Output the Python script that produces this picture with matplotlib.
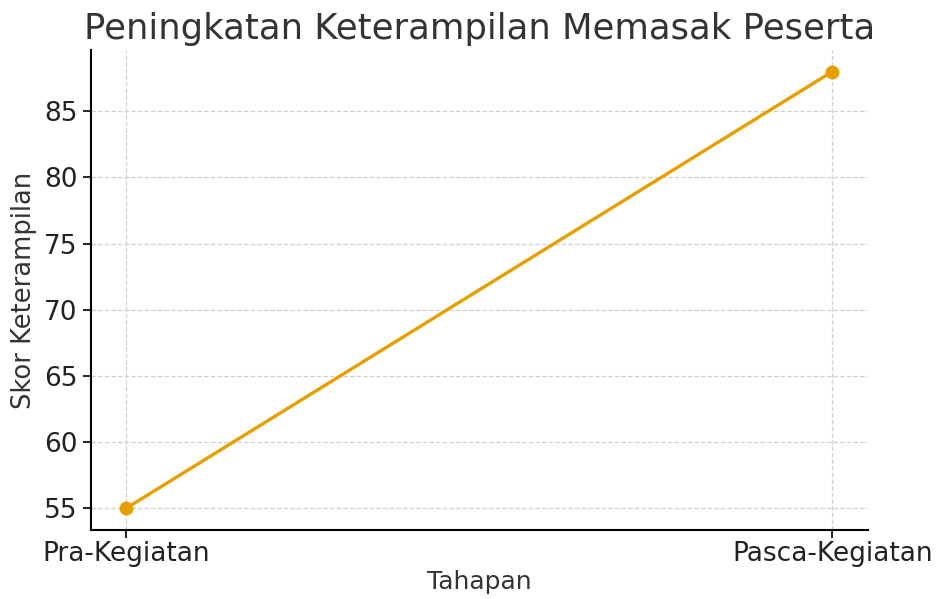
import matplotlib
matplotlib.use('Agg')
import matplotlib.pyplot as plt

tahapan = ['Pra-Kegiatan', 'Pasca-Kegiatan']
skor = [55, 88]

fig, ax = plt.subplots(figsize=(9.37, 5.99), dpi=100)
ax.plot(tahapan, skor, marker='o', color='#E69F00', linewidth=2.4, markersize=9)

ax.set_title('Peningkatan Keterampilan Memasak Peserta', fontsize=25.5, color='#333333', pad=8)
ax.set_xlabel('Tahapan', fontsize=18, color='#333333', labelpad=2)
ax.set_ylabel('Skor Keterampilan', fontsize=18.5, color='#333333', labelpad=5)
ax.tick_params(labelsize=19, labelcolor='#222222', length=6, width=1.2)
ax.tick_params(axis='x', pad=2)
ax.grid(True, linestyle='--', color='#d0d0d0', linewidth=0.9)
ax.spines['top'].set_visible(False)
ax.spines['right'].set_visible(False)
ax.spines['left'].set_linewidth(1.5)
ax.spines['bottom'].set_linewidth(1.5)

plt.subplots_adjust(left=0.097, right=0.926, top=0.917, bottom=0.115)
plt.savefig('out.png', dpi=100)
